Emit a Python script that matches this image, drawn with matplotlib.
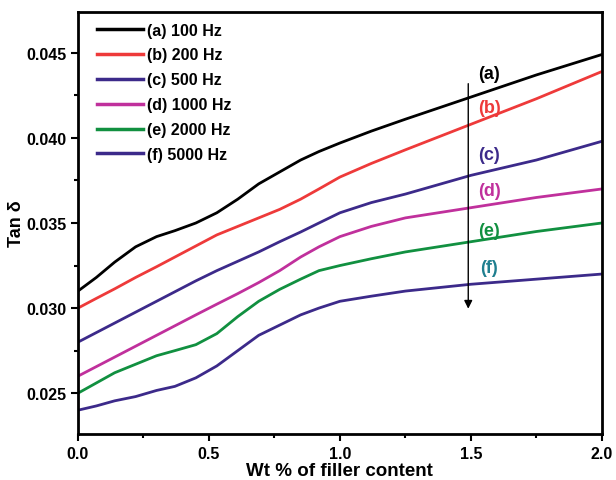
import matplotlib
matplotlib.use("Agg")
import matplotlib.pyplot as plt
from matplotlib.ticker import MultipleLocator, FormatStrFormatter

plt.rcParams['font.family'] = ['Liberation Sans', 'DejaVu Sans']

# filler content (wt %)
wt = [0, 0.07, 0.14, 0.22, 0.3, 0.37, 0.45, 0.53, 0.61, 0.69, 0.77, 0.85, 0.92,
      1.0, 1.12, 1.25, 1.5, 1.75, 2.0]

tan_100 = [0.0310, 0.0318, 0.0327, 0.0336, 0.0342, 0.03455, 0.0350, 0.0356, 0.0364, 0.0373,
           0.0380, 0.0387, 0.0392, 0.0397, 0.0404, 0.0411, 0.0424, 0.0437, 0.0449]
tan_200 = [0.0300, 0.03057, 0.03113, 0.0318, 0.03243, 0.0330, 0.03365, 0.0343, 0.0348, 0.0353,
           0.0358, 0.0364, 0.0370, 0.0377, 0.0385, 0.0393, 0.0408, 0.0423, 0.0439]
tan_500 = [0.0280, 0.02856, 0.02912, 0.02976, 0.0304, 0.03096, 0.0316, 0.0322, 0.03275, 0.0333,
           0.0339, 0.03447, 0.0350, 0.0356, 0.0362, 0.0367, 0.0378, 0.0387, 0.0398]
tan_1000 = [0.0260, 0.02656, 0.02712, 0.02776, 0.0284, 0.02896, 0.0296, 0.03023, 0.03085, 0.0315,
            0.0322, 0.0330, 0.0336, 0.0342, 0.0348, 0.0353, 0.0359, 0.0365, 0.0370]
tan_2000 = [0.0250, 0.0256, 0.0262, 0.0267, 0.0272, 0.0275, 0.02785, 0.0285, 0.0295, 0.0304,
            0.0311, 0.0317, 0.0322, 0.0325, 0.0329, 0.0333, 0.0339, 0.0345, 0.0350]
tan_5000 = [0.0240, 0.02425, 0.02455, 0.0248, 0.02516, 0.0254, 0.0259, 0.0266, 0.0275, 0.0284,
            0.0290, 0.0296, 0.0300, 0.0304, 0.0307, 0.0310, 0.0314, 0.0317, 0.0320]

series = [tan_100, tan_200, tan_500, tan_1000, tan_2000, tan_5000]
names = ["(a) 100 Hz", "(b) 200 Hz", "(c) 500 Hz", "(d) 1000 Hz", "(e) 2000 Hz", "(f) 5000 Hz"]
tags = ["(a)", "(b)", "(c)", "(d)", "(e)", "(f)"]
tag_y = [0.04376, 0.04176, 0.0390, 0.0369, 0.03453, 0.03241]

colours = ["#000000", "#ee3a3a", "#3c2a8a", "#c0309c", "#119040", "#3c2a8a"]
tag_colours = ["#000000", "#ee3a3a", "#3c2a8a", "#c0309c", "#119040", "#1f7f8f"]

fig = plt.figure(figsize=(6.16, 4.81), dpi=100)
ax = fig.add_axes([0.1266, 0.0956, 0.8504, 0.8774])

for y, c, n in zip(series, colours, names):
    ax.plot(wt, y, color=c, lw=2, label=n)

for t, ty, c in zip(tags, tag_y, tag_colours):
    ax.text(1.57, ty, t, color=c, fontsize=13, fontweight="bold", ha="center", va="center")

ax.annotate("", xy=(1.49, 0.0298), xytext=(1.49, 0.04335),
            arrowprops=dict(arrowstyle="-|>", color="black", lw=1, mutation_scale=12))

ax.set_xlim(0, 2.0)
ax.set_ylim(0.0226, 0.0474)
ax.xaxis.set_major_locator(MultipleLocator(0.5))
ax.xaxis.set_minor_locator(MultipleLocator(0.25))
ax.yaxis.set_major_locator(MultipleLocator(0.005))
ax.yaxis.set_minor_locator(MultipleLocator(0.0025))
ax.xaxis.set_major_formatter(FormatStrFormatter("%.1f"))
ax.yaxis.set_major_formatter(FormatStrFormatter("%.3f"))
ax.tick_params(which="both", direction="out", width=1.5, top=False, right=False)
ax.tick_params(which="major", length=5, labelsize=11.5)
ax.tick_params(which="minor", length=3)
for lab in ax.get_xticklabels() + ax.get_yticklabels():
    lab.set_fontweight("bold")
for s in ax.spines.values():
    s.set_linewidth(2)

ax.set_xlabel("Wt % of filler content", fontsize=13.5, fontweight="bold", labelpad=1)
ax.set_ylabel("Tan δ", fontsize=13, fontweight="bold", labelpad=1)

leg = ax.legend(loc="upper left", bbox_to_anchor=(0.036, 0.975), frameon=False,
                handlelength=2.9, handletextpad=0.25, labelspacing=0.62,
                borderaxespad=0, borderpad=0, prop={"weight": "bold", "size": 11.5})
for line in leg.get_lines():
    line.set_linewidth(2.5)

fig.savefig("out.png", dpi=100)
